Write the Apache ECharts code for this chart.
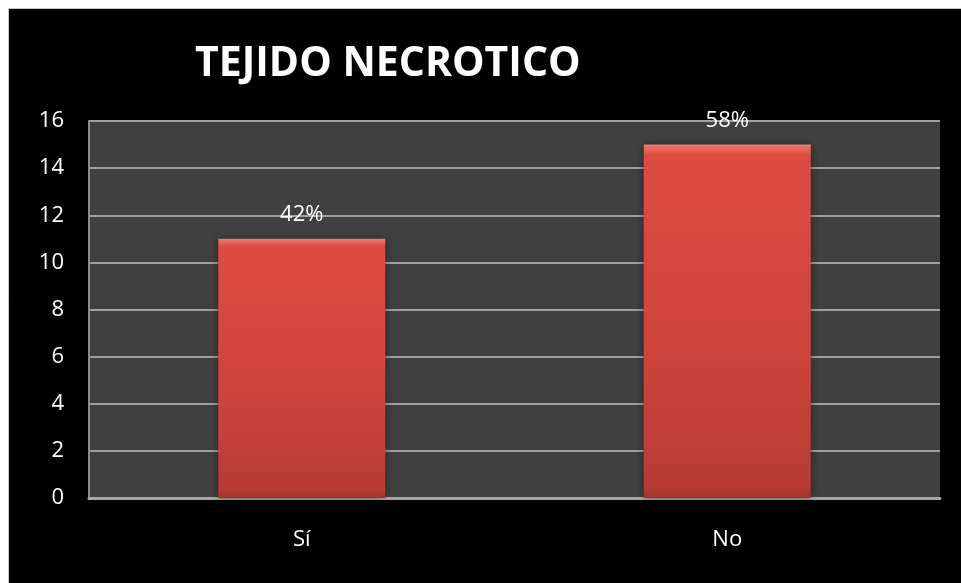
<!DOCTYPE html>
<html>
<head>
<meta charset="utf-8">
<script src="https://cdn.jsdelivr.net/npm/echarts@6/dist/echarts.min.js"></script>
<style>
  html, body { margin: 0; padding: 0; background: #ffffff; }
  #chart { width: 961px; height: 583px; }
</style>
</head>
<body>
<div id="chart"></div>
<script>
// Chart data
const categories = ['Sí', 'No'];
const counts = [11, 15];
const yTicks = { min: 0, max: 16, interval: 2 };

const total = counts.reduce((a, b) => a + b, 0);
const FONT = '"Open Sans", "Noto Sans", sans-serif';

const chart = echarts.init(document.getElementById('chart'), null, { renderer: 'canvas' });

const barFill = new echarts.graphic.LinearGradient(0, 0, 0, 1, [
  { offset: 0, color: '#f07a70' },
  { offset: 0.03, color: '#dc4b42' },
  { offset: 0.5, color: '#d2463d' },
  { offset: 0.97, color: '#b73c34' },
  { offset: 1, color: '#9e322b' }
]);

chart.setOption({
  backgroundColor: 'transparent',
  animation: false,
  graphic: [
    {
      type: 'rect',
      z: -10,
      silent: true,
      shape: { x: 8.5, y: 8.5, width: 960, height: 580 },
      style: { fill: '#000000', stroke: '#c8c8c8', lineWidth: 1 }
    }
  ],
  title: {
    text: 'TEJIDO NECROTICO',
    left: 190,
    top: 39,
    textStyle: {
      color: '#ffffff',
      fontFamily: FONT,
      fontWeight: 'bold',
      fontSize: 41
    }
  },
  grid: {
    left: 89,
    right: 21,
    top: 121,
    bottom: 85,
    show: true,
    backgroundColor: '#404040',
    borderWidth: 0
  },
  xAxis: {
    type: 'category',
    data: categories,
    axisLine: { show: true, lineStyle: { color: '#a6a6a6', width: 3 } },
    axisTick: { show: false },
    axisLabel: {
      color: '#ffffff',
      fontFamily: FONT,
      fontSize: 22,
      margin: 31
    }
  },
  yAxis: {
    type: 'value',
    min: yTicks.min,
    max: yTicks.max,
    interval: yTicks.interval,
    axisLine: { show: true, lineStyle: { color: '#8c8c8c', width: 2 } },
    axisTick: { show: false },
    axisLabel: {
      color: '#ffffff',
      fontFamily: FONT,
      fontSize: 22,
      margin: 25
    },
    splitLine: { show: true, lineStyle: { color: '#a0a0a0', width: 2 } }
  },
  series: [
    {
      type: 'bar',
      data: counts,
      barWidth: 167,
      itemStyle: {
        color: barFill,
        shadowColor: 'rgba(0,0,0,0.45)',
        shadowBlur: 8,
        shadowOffsetX: 0,
        shadowOffsetY: 0
      },
      label: {
        show: true,
        position: 'top',
        distance: 13,
        color: '#ffffff',
        fontFamily: FONT,
        fontSize: 22,
        formatter: p => Math.round(p.value / total * 100) + '%'
      }
    }
  ]
});
</script>
</body>
</html>
